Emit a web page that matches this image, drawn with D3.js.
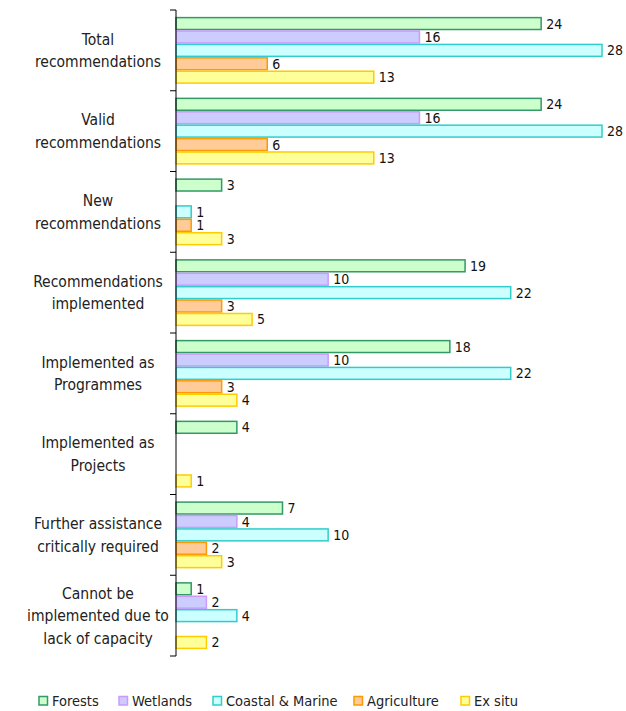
<!DOCTYPE html>
<html>
<head>
<meta charset="utf-8">
<script src="https://cdn.jsdelivr.net/npm/d3@7/dist/d3.min.js"></script>
<style>
  html, body { margin: 0; padding: 0; background: #fff; }
  svg { display: block; font-family: "DejaVu Sans Condensed", "DejaVu Sans", sans-serif; font-stretch: condensed; }
</style>
</head>
<body>
<svg id="chart" width="626" height="711"></svg>
<script>
// Categories (each entry is the multi-line label)
const categories = [
  ["Total", "recommendations"],
  ["Valid", "recommendations"],
  ["New", "recommendations"],
  ["Recommendations", "implemented"],
  ["Implemented as", "Programmes"],
  ["Implemented as", "Projects"],
  ["Further assistance", "critically required"],
  ["Cannot be", "implemented due to", "lack of capacity"]
];

const seriesNames = ["Forests", "Wetlands", "Coastal & Marine", "Agriculture", "Ex situ"];

// Values per series, in category order (null = no bar)
const forests     = [24, 24, 3, 19, 18, 4, 7, 1];
const wetlands    = [16, 16, null, 10, 10, null, 4, 2];
const coastal     = [28, 28, 1, 22, 22, null, 10, 4];
const agriculture = [6, 6, 1, 3, 3, null, 2, null];
const exSitu      = [13, 13, 3, 5, 4, 1, 3, 2];

const seriesValues = [forests, wetlands, coastal, agriculture, exSitu];

const fills   = ["#ccffcc", "#ccccff", "#ccffff", "#ffcc99", "#ffff99"];
const strokes = ["#339966", "#cc99ff", "#33cccc", "#ff9900", "#ffcc00"];

const svg = d3.select("#chart");

const x = d3.scaleLinear().domain([0, 28]).range([176, 602]);

const y = d3.scaleBand()
  .domain(d3.range(categories.length))
  .range([10, 656])
  .paddingInner(0.17)
  .paddingOuter(0.085);

const ySub = d3.scaleBand()
  .domain(d3.range(seriesNames.length))
  .range([0, y.bandwidth()]);

// Bars
const groups = svg.append("g").selectAll("g")
  .data(categories)
  .join("g")
  .attr("transform", (d, i) => `translate(0,${y(i)})`);

groups.each(function (cat, ci) {
  const g = d3.select(this);
  seriesValues.forEach((vals, si) => {
    const v = vals[ci];
    if (v === null || v === undefined) return;
    g.append("rect")
      .attr("x", x(0))
      .attr("y", ySub(si) + 0.75)
      .attr("width", x(v) - x(0))
      .attr("height", ySub.bandwidth() - 1.5)
      .attr("fill", fills[si])
      .attr("stroke", strokes[si])
      .attr("stroke-width", 1.5);
    g.append("text")
      .attr("x", x(v) + 5)
      .attr("y", ySub(si) + ySub.bandwidth() / 2)
      .attr("dy", "0.36em")
      .attr("font-size", 14)
      .attr("fill", "#111")
      .text(v);
  });
});

// Category axis with ticks at the band boundaries
const axisG = svg.append("g");
axisG.append("line")
  .attr("x1", x(0)).attr("x2", x(0))
  .attr("y1", 10).attr("y2", 656)
  .attr("stroke", "#000").attr("stroke-width", 1);
const bounds = d3.range(categories.length + 1).map(i => 10 + i * y.step());
axisG.selectAll("line.tick")
  .data(bounds)
  .join("line")
  .attr("class", "tick")
  .attr("x1", x(0) - 6).attr("x2", x(0))
  .attr("y1", d => d).attr("y2", d => d)
  .attr("stroke", "#000").attr("stroke-width", 1);

// Category labels
const lineH = 22.5;
svg.append("g").selectAll("text")
  .data(categories)
  .join("text")
  .attr("text-anchor", "middle")
  .attr("font-size", 15.5)
  .attr("fill", "#222")
  .each(function (lines, i) {
    const cy = y(i) + y.bandwidth() / 2;
    const t = d3.select(this);
    lines.forEach((ln, k) => {
      t.append("tspan")
        .attr("x", 98)
        .attr("y", cy + (k - (lines.length - 1) / 2) * lineH)
        .attr("dy", "0.36em")
        .text(ln);
    });
  });

// Legend
const legendX = [39, 119, 213, 354, 461];
const legend = svg.append("g").selectAll("g")
  .data(seriesNames)
  .join("g")
  .attr("transform", (d, i) => `translate(${legendX[i]},696.5)`);
legend.append("rect")
  .attr("width", 8.5).attr("height", 8.5)
  .attr("fill", (d, i) => fills[i])
  .attr("stroke", (d, i) => strokes[i])
  .attr("stroke-width", 1.5);
legend.append("text")
  .attr("x", 13)
  .attr("y", 4.5)
  .attr("dy", "0.36em")
  .attr("font-size", 14.5)
  .attr("fill", "#222")
  .text(d => d);
</script>
</body>
</html>
